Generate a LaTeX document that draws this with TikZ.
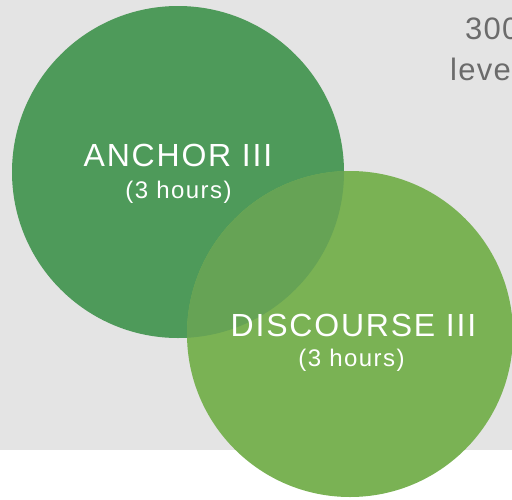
\documentclass[tikz,border=0pt]{standalone}
\usepackage{fontspec}
\setmainfont{Liberation Sans}
\newfontfamily\titlefont[LetterSpace=5.6]{Liberation Sans}
\newfontfamily\subfont[LetterSpace=6]{Liberation Sans}
\newfontfamily\sidefont[LetterSpace=4]{Liberation Sans}
\definecolor{bggray}{HTML}{E4E4E4}
\definecolor{darkgreen}{HTML}{4E9A5A}
\definecolor{lightgreen}{HTML}{7AB254}
\definecolor{midgreen}{HTML}{66A355}
\definecolor{textgray}{HTML}{6B6B6B}
\tikzset{
  bubble/.style={circle, inner sep=0pt, outer sep=0pt, minimum size=#1},
  title/.style={text=white, anchor=base, inner sep=0pt, font=\titlefont\fontsize{32}{36}\selectfont},
  hours/.style={text=white, anchor=base, inner sep=0pt, font=\subfont\fontsize{24}{28}\selectfont},
  side/.style={text=textgray, anchor=base west, inner sep=0pt, font=\sidefont\fontsize{31}{36}\selectfont}
}
\begin{document}
\begin{tikzpicture}[x=1pt,y=-1pt]
\useasboundingbox (0,0) rectangle (512,499);
\fill[bggray] (0,0) rectangle (512,450);
\begin{scope}
\clip (0,0) rectangle (512,499);
\node[side] (t300) at (465,39) {300};
\node[side] (tlev) at (450,80) {leve};
\node[bubble=332pt, fill=darkgreen] (anchor) at (178,172) {};
\node[bubble=326pt, fill=lightgreen] (discourse) at (350,334) {};
\begin{scope}
\clip (178,172) circle (166);
\fill[midgreen] (350,334) circle (163);
\end{scope}
\end{scope}
\node[title] (a1) at (178,166) {ANCHOR III};
\node[hours] (a2) at (178.5,198) {(3 hours)};
\node[title] (d1) at (353.5,336) {DISCOURSE III};
\node[hours] (d2) at (351.5,366) {(3 hours)};
\end{tikzpicture}
\end{document}
